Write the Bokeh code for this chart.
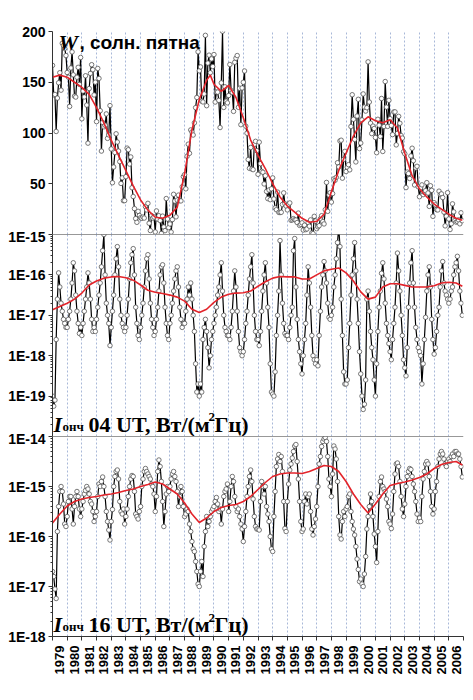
import math
from bokeh.plotting import figure
from bokeh.layouts import column
from bokeh.models import Range1d, FixedTicker, CustomJSTickFormatter, Label, Span
from bokeh.embed import file_html
from bokeh.resources import INLINE

FIRST_YEAR = 1979
LAST_YEAR = 2007
YEAR_LABELS = list(range(1979, 2007))

# Monthly sunspot number W, Jan..Dec, 1979..2006
W_ROWS = [
    [166.6, 137.5, 138.0, 101.5, 134.4, 149.5, 159.4, 142.2, 188.4, 186.2, 183.3, 176.3],
    [159.6, 155.0, 126.2, 164.1, 179.9, 157.3, 136.3, 135.4, 155.0, 164.7, 147.9, 174.4],
    [114.0, 141.3, 135.5, 156.4, 127.5, 90.0, 143.8, 158.7, 167.3, 162.4, 137.5, 150.1],
    [111.2, 163.6, 153.8, 122.0, 82.2, 110.4, 106.1, 107.6, 118.8, 94.7, 98.1, 127.0],
    [84.3, 51.0, 66.5, 80.7, 99.2, 91.1, 82.2, 71.8, 50.3, 55.8, 33.3, 33.4],
    [57.0, 85.1, 83.5, 69.4, 76.4, 46.1, 37.4, 25.5, 15.7, 12.0, 22.8, 18.7],
    [16.5, 15.9, 17.2, 16.2, 27.5, 24.2, 30.7, 11.1, 3.9, 18.6, 16.2, 17.3],
    [2.5, 23.2, 15.1, 18.5, 13.7, 1.1, 18.1, 7.4, 3.8, 35.4, 15.2, 6.8],
    [10.4, 2.4, 14.7, 39.6, 33.0, 17.4, 33.9, 38.8, 33.3, 33.1, 47.0, 57.0],
    [59.0, 45.0, 77.0, 89.0, 80.0, 103.0, 101.0, 98.0, 110.0, 125.0, 135.0, 180.0],
    [161.3, 165.1, 131.4, 130.6, 138.5, 196.2, 126.9, 168.9, 176.7, 159.4, 173.0, 165.5],
    [177.3, 130.5, 140.3, 140.3, 132.2, 105.4, 149.4, 200.3, 125.2, 145.5, 131.4, 129.7],
    [136.9, 167.5, 141.9, 140.0, 121.3, 169.7, 173.7, 176.3, 125.3, 144.1, 108.2, 144.4],
    [150.0, 161.1, 106.7, 99.8, 73.8, 65.2, 85.7, 64.5, 63.9, 88.7, 91.8, 82.6],
    [59.3, 91.0, 69.8, 62.2, 61.3, 49.8, 57.9, 42.4, 35.4, 43.9, 34.3, 45.0],
    [55.8, 35.0, 26.2, 24.4, 41.8, 21.8, 21.6, 21.9, 29.6, 41.0, 30.3, 28.0],
    [24.2, 29.9, 31.1, 14.0, 14.5, 15.6, 14.5, 14.3, 11.8, 21.1, 9.0, 10.0],
    [11.5, 4.4, 9.2, 4.8, 5.5, 11.8, 8.2, 14.4, 1.6, 0.9, 17.9, 13.3],
    [5.7, 7.6, 8.7, 15.5, 18.5, 12.7, 10.4, 24.4, 51.3, 22.8, 39.0, 41.2],
    [31.9, 40.3, 54.8, 53.4, 56.3, 70.7, 66.6, 92.2, 92.9, 55.5, 74.0, 81.9],
    [62.0, 66.3, 68.8, 63.7, 106.4, 137.7, 113.5, 93.7, 71.5, 116.7, 133.2, 84.6],
    [90.1, 112.9, 138.5, 125.5, 121.6, 124.9, 170.1, 130.5, 109.7, 99.4, 106.8, 104.4],
    [95.6, 80.6, 113.5, 107.7, 96.6, 134.0, 81.8, 106.4, 150.7, 125.5, 106.5, 132.2],
    [114.1, 107.4, 98.4, 120.7, 120.8, 88.3, 99.6, 116.4, 109.6, 97.5, 95.0, 81.6],
    [79.5, 46.2, 61.5, 60.0, 55.2, 77.4, 85.0, 72.7, 48.8, 65.6, 67.2, 47.0],
    [37.2, 46.0, 48.9, 39.3, 41.5, 43.2, 51.1, 40.9, 27.7, 48.0, 43.5, 17.9],
    [31.3, 29.2, 24.5, 24.2, 42.7, 39.3, 40.0, 36.4, 22.1, 8.5, 18.0, 41.2],
    [15.3, 4.9, 10.6, 30.2, 22.3, 13.9, 12.2, 12.9, 14.4, 10.5, 21.4, 13.6],
]

# Monthly VLF intensity at 04 UT, log10 of W/(m^2 Hz)
I04_LOG_ROWS = [
    [-19.0, -19.25, -19.1, -17.6, -16.6, -15.95, -16.3, -16.7, -16.9, -17.1, -17.2, -17.3],
    [-17.3, -17.1, -16.9, -16.6, -16.2, -15.7, -15.9, -16.5, -16.9, -17.2, -17.45, -17.3],
    [-17.5, -17.2, -16.9, -16.6, -16.3, -15.95, -16.2, -16.6, -17.1, -17.4, -17.3, -17.4],
    [-17.1, -16.8, -16.5, -16.2, -15.8, -15.4, -15.0, -16.0, -16.7, -17.0, -17.2, -17.75],
    [-17.3, -16.9, -16.5, -16.0, -15.6, -15.3, -15.8, -16.6, -17.0, -17.2, -17.3, -17.4],
    [-17.3, -17.0, -16.6, -16.1, -15.7, -15.5, -15.35, -16.0, -16.8, -17.2, -17.5, -17.6],
    [-17.3, -17.0, -16.7, -16.3, -15.9, -15.6, -15.5, -16.1, -16.7, -17.1, -17.3, -17.5],
    [-17.4, -17.1, -16.8, -16.4, -16.0, -15.8, -15.75, -16.2, -16.8, -17.2, -17.5, -17.6],
    [-17.2, -17.0, -16.7, -16.4, -16.1, -15.9, -15.8, -16.3, -16.8, -17.1, -17.3, -17.2],
    [-17.2, -16.9, -16.6, -16.3, -16.5, -16.2, -16.6, -17.0, -17.4, -18.2, -18.9, -18.7],
    [-19.0, -18.7, -18.9, -17.6, -17.3, -17.1, -17.4, -17.8, -18.3, -18.0, -17.6, -17.4],
    [-17.2, -17.0, -16.8, -16.5, -16.3, -16.0, -15.7, -16.4, -17.0, -17.3, -17.4, -17.5],
    [-17.5, -17.6, -17.3, -16.9, -16.4, -15.9, -16.3, -16.9, -17.4, -17.8, -17.9, -18.0],
    [-17.9, -17.6, -17.2, -16.9, -16.5, -16.1, -15.8, -15.5, -16.2, -17.0, -17.4, -17.6],
    [-17.6, -17.75, -17.4, -16.9, -16.4, -16.0, -15.7, -16.2, -16.8, -17.3, -18.2, -18.9],
    [-18.95, -19.0, -18.4, -17.5, -17.0, -16.4, -15.15, -16.0, -16.7, -17.2, -17.45, -17.5],
    [-17.5, -17.6, -17.3, -17.0, -16.8, -15.4, -15.1, -16.3, -17.1, -17.6, -17.9, -18.2],
    [-18.45, -18.0, -17.6, -17.2, -16.5, -15.8, -16.2, -16.8, -17.5, -18.0, -18.1, -18.2],
    [-18.1, -18.25, -17.5, -16.9, -16.3, -16.0, -15.67, -15.9, -16.2, -16.7, -17.05, -17.1],
    [-17.0, -16.8, -16.3, -16.0, -15.6, -15.2, -14.8, -15.3, -16.6, -17.5, -18.4, -18.7],
    [-18.7, -18.6, -17.8, -17.2, -16.5, -16.0, -15.6, -15.2, -15.9, -16.6, -17.2, -17.9],
    [-18.45, -19.0, -19.33, -19.2, -18.6, -16.6, -16.4, -16.9, -17.4, -17.8, -18.1, -18.6],
    [-19.0, -18.2, -17.4, -16.8, -16.4, -15.96, -15.7, -16.1, -16.7, -17.2, -17.5, -17.7],
    [-17.9, -18.1, -17.6, -17.2, -16.8, -16.2, -15.46, -15.9, -16.4, -17.0, -17.5, -18.1],
    [-18.3, -18.5, -17.8, -16.8, -16.2, -15.7, -15.4, -16.2, -16.8, -17.3, -17.6, -17.8],
    [-17.9, -18.0, -18.7, -18.2, -17.6, -17.05, -16.4, -16.0, -15.8, -16.3, -17.1, -17.6],
    [-17.96, -17.8, -17.4, -17.0, -16.8, -16.3, -15.9, -15.67, -16.2, -16.4, -16.5, -16.6],
    [-16.7, -16.6, -16.4, -16.3, -16.0, -15.8, -15.7, -15.54, -15.9, -16.4, -16.7, -17.0],
]

# Monthly VLF intensity at 16 UT, log10 of W/(m^2 Hz)
I16_LOG_ROWS = [
    [-16.7, -16.8, -17.05, -17.24, -15.9, -15.4, -15.1, -15.0, -15.1, -15.35, -15.75, -15.8],
    [-15.6, -15.3, -15.2, -15.2, -15.45, -15.75, -15.4, -15.2, -15.1, -15.2, -15.45, -15.6],
    [-15.45, -15.3, -15.15, -15.08, -15.0, -15.05, -15.15, -15.3, -15.35, -15.5, -15.7, -15.6],
    [-15.5, -15.2, -14.95, -15.0, -14.9, -14.81, -15.0, -15.2, -15.5, -15.7, -15.87, -16.07],
    [-15.7, -15.46, -15.0, -14.8, -14.7, -14.67, -14.85, -15.3, -15.5, -15.55, -15.45, -15.75],
    [-15.6, -15.45, -15.2, -15.0, -14.85, -14.78, -14.8, -15.1, -15.55, -15.6, -15.65, -15.5],
    [-15.4, -15.0, -14.85, -14.7, -14.64, -14.7, -14.75, -14.8, -14.85, -14.95, -15.0, -15.15],
    [-15.5, -15.2, -14.7, -14.47, -14.6, -14.9, -15.3, -15.8, -15.5, -15.15, -15.0, -15.1],
    [-15.0, -14.85, -14.75, -14.7, -14.8, -14.9, -15.1, -15.4, -15.2, -15.0, -15.1, -15.4],
    [-15.6, -15.55, -15.45, -15.5, -15.75, -15.9, -16.1, -16.25, -16.3, -16.5, -16.7, -16.95],
    [-17.0, -16.7, -16.5, -16.8, -16.2, -15.9, -15.6, -15.8, -15.7, -15.6, -15.5, -15.45],
    [-15.4, -15.3, -15.22, -15.35, -15.5, -15.45, -15.75, -15.45, -15.2, -15.1, -15.05, -14.95],
    [-15.5, -15.3, -15.0, -14.8, -14.9, -15.2, -15.4, -15.5, -15.45, -15.6, -15.75, -15.85],
    [-16.1, -15.8, -15.5, -15.2, -15.0, -14.8, -14.67, -14.9, -15.25, -15.6, -15.8, -15.85],
    [-15.85, -15.87, -15.3, -14.9, -15.0, -15.15, -15.0, -15.4, -15.55, -15.7, -16.0, -16.25],
    [-16.3, -15.6, -15.1, -14.6, -14.45, -14.36, -14.5, -14.4, -14.7, -15.3, -15.84, -15.9],
    [-15.3, -14.95, -14.67, -14.55, -14.43, -14.3, -14.19, -14.16, -14.5, -14.85, -15.3, -15.7],
    [-15.9, -15.85, -15.3, -15.15, -15.35, -15.2, -15.15, -15.5, -15.85, -15.97, -15.8, -15.65],
    [-15.4, -15.0, -14.55, -14.4, -14.2, -14.1, -14.05, -14.02, -14.1, -14.4, -14.85, -15.0],
    [-15.2, -14.75, -14.19, -14.25, -14.45, -14.9, -15.6, -15.97, -16.05, -15.7, -15.5, -15.6],
    [-15.45, -15.4, -15.2, -15.15, -15.5, -15.7, -15.85, -15.97, -16.2, -16.45, -16.66, -16.9],
    [-16.85, -16.95, -17.0, -16.75, -16.4, -15.85, -15.6, -15.4, -15.15, -15.3, -15.6, -15.95],
    [-16.2, -16.52, -15.9, -15.2, -14.9, -14.81, -15.0, -15.05, -15.1, -15.25, -15.4, -15.7],
    [-15.75, -15.84, -15.55, -15.1, -14.75, -14.55, -14.53, -14.6, -14.9, -15.2, -15.45, -15.6],
    [-15.35, -15.0, -14.8, -14.7, -14.64, -14.66, -14.8, -14.95, -15.1, -15.3, -15.55, -15.7],
    [-15.63, -15.7, -15.2, -14.85, -14.7, -14.55, -14.5, -14.55, -14.8, -15.1, -15.4, -15.55],
    [-15.45, -15.1, -14.9, -14.6, -14.45, -14.35, -14.3, -14.35, -14.45, -14.55, -14.6, -14.5],
    [-14.45, -14.5, -14.4, -14.35, -14.4, -14.3, -14.3, -14.35, -14.35, -14.45, -14.6, -14.81],
]

# Smoothed (red) curves
W_SMOOTH_X = [1979.0, 1979.5, 1980.0, 1980.5, 1981.0, 1981.5, 1982.0, 1982.5, 1983.0, 1983.5,
              1984.0, 1984.5, 1985.0, 1985.5, 1986.0, 1986.5, 1987.0, 1987.5, 1988.0, 1988.5,
              1989.0, 1989.5, 1989.75, 1990.0, 1990.5, 1991.0, 1991.5, 1992.0, 1992.5, 1993.0,
              1993.5, 1994.0, 1994.5, 1995.0, 1995.5, 1996.0, 1996.5, 1997.0, 1997.5, 1998.0,
              1998.5, 1999.0, 1999.5, 2000.0, 2000.5, 2001.0, 2001.5, 2002.0, 2002.5, 2003.0,
              2003.5, 2004.0, 2004.5, 2005.0, 2005.5, 2006.0, 2006.5, 2006.92]
W_SMOOTH = [155, 157, 155, 150, 145, 138, 125, 110, 93, 78,
            63, 48, 34, 24, 17, 16, 19, 27, 60, 103,
            133, 152, 157, 148, 141, 147, 135, 115, 93, 78,
            65, 50, 37, 28, 22, 16, 12, 13, 20, 42,
            63, 80, 97, 110, 116, 112, 110, 113, 105, 80,
            58, 45, 37, 30, 25, 20, 16, 14]

I_SMOOTH_X = [1979.0, 1979.5, 1980.0, 1980.5, 1981.0, 1981.5, 1982.0, 1982.5, 1983.0, 1983.5,
              1984.0, 1984.5, 1985.0, 1985.5, 1986.0, 1986.5, 1987.0, 1987.5, 1988.0, 1988.5,
              1989.0, 1989.5, 1990.0, 1990.5, 1991.0, 1991.5, 1992.0, 1992.5, 1993.0, 1993.5,
              1994.0, 1994.5, 1995.0, 1995.5, 1996.0, 1996.5, 1997.0, 1997.5, 1998.0, 1998.5,
              1999.0, 1999.5, 2000.0, 2000.5, 2001.0, 2001.5, 2002.0, 2002.5, 2003.0, 2003.5,
              2004.0, 2004.5, 2005.0, 2005.5, 2006.0, 2006.5, 2006.92]
I04_SMOOTH_LOG = [-16.86, -16.78, -16.7, -16.6, -16.45, -16.25, -16.15, -16.08, -16.05, -16.04,
                  -16.07, -16.13, -16.25, -16.38, -16.43, -16.46, -16.5, -16.55, -16.65, -16.85,
                  -16.93, -16.85, -16.68, -16.55, -16.48, -16.45, -16.44, -16.4, -16.28, -16.17,
                  -16.08, -16.04, -16.05, -16.05, -16.1, -16.1, -16.0, -15.9, -15.86, -15.83,
                  -15.95, -16.15, -16.42, -16.6, -16.55, -16.3, -16.22, -16.22, -16.26, -16.3,
                  -16.3, -16.3, -16.27, -16.2, -16.18, -16.2, -16.28]
I16_SMOOTH_LOG = [-15.73, -15.55, -15.39, -15.3, -15.25, -15.22, -15.2, -15.17, -15.15, -15.12,
                  -15.08, -15.05, -15.0, -14.96, -14.91, -14.95, -15.05, -15.15, -15.33, -15.55,
                  -15.72, -15.63, -15.5, -15.42, -15.38, -15.36, -15.3, -15.2, -15.06, -14.92,
                  -14.8, -14.75, -14.73, -14.73, -14.74, -14.7, -14.64, -14.58, -14.6, -14.7,
                  -14.9, -15.15, -15.36, -15.53, -15.35, -15.15, -14.98, -14.94, -14.91, -14.87,
                  -14.82, -14.75, -14.64, -14.56, -14.52, -14.5, -14.57]

# ---------------------------------------------------------------------------
w_vals = [v for row in W_ROWS for v in row]
i04_vals = [10 ** v for row in I04_LOG_ROWS for v in row]
i16_vals = [10 ** v for row in I16_LOG_ROWS for v in row]
months_x = [FIRST_YEAR + k / 12 for k in range(len(w_vals))]
i04_smooth = [10 ** v for v in I04_SMOOTH_LOG]
i16_smooth = [10 ** v for v in I16_SMOOTH_LOG]

FIG_W = 471
BORDER_L = 52
BORDER_R = 8
FRAME_W = FIG_W - BORDER_L - BORDER_R
OVERLAP = 6


def year_at(px_from_frame_left):
    return FIRST_YEAR + px_from_frame_left * (LAST_YEAR - FIRST_YEAR) / FRAME_W


x_range = Range1d(FIRST_YEAR, LAST_YEAR)
common = dict(width=FIG_W, x_range=x_range, toolbar_location=None, output_backend="svg",
              min_border_left=BORDER_L, min_border_right=BORDER_R)

p1 = figure(height=31 + 203, y_range=Range1d(0, 200), min_border_top=31, min_border_bottom=0, **common)
p2 = figure(height=202 + OVERLAP, y_range=Range1d(1e-20, 1e-15), y_axis_type="log",
            min_border_top=OVERLAP, min_border_bottom=0, margin=(-OVERLAP, 0, 0, 0), **common)
p3 = figure(height=200 + OVERLAP + 42, y_range=Range1d(1e-18, 1e-14), y_axis_type="log",
            min_border_top=OVERLAP, min_border_bottom=42, margin=(-OVERLAP, 0, 0, 0), **common)

AX_COLOR = "#333333"
GRID_COLOR = "#a8b8d8"

for p in (p1, p2, p3):
    p.outline_line_color = None
    p.ygrid.visible = False
    p.xgrid.ticker = FixedTicker(ticks=list(range(1980, 2007)))
    p.xgrid.grid_line_color = GRID_COLOR
    p.xgrid.grid_line_dash = "2 2"
    p.xgrid.grid_line_width = 1
    ax = p.yaxis[0]
    ax.axis_line_color = AX_COLOR
    ax.major_tick_line_color = AX_COLOR
    ax.minor_tick_line_color = AX_COLOR
    ax.major_tick_out = 4
    ax.major_tick_in = 0
    ax.minor_tick_out = 2
    ax.minor_tick_in = 0
    ax.major_label_standoff = 3
    ax.major_label_text_font = "Liberation Sans"
    ax.major_label_text_font_style = "bold"
    ax.major_label_text_font_size = "14px"
    ax.major_label_text_color = "black"

p1.border_fill_color = "white"
p2.border_fill_alpha = 0
p3.border_fill_alpha = 0

p1.xaxis.visible = False
p2.xaxis.visible = False

p1.yaxis.ticker = FixedTicker(ticks=[50, 100, 150, 200])
p1.yaxis.minor_tick_line_color = None

log_fmt = CustomJSTickFormatter(code="return '1E' + Math.round(Math.log10(tick));")
p2.yaxis.ticker = FixedTicker(ticks=[1e-19, 1e-18, 1e-17, 1e-16, 1e-15],
                              minor_ticks=[k * 10.0 ** e for e in range(-20, -15) for k in range(2, 10)])
p2.yaxis.formatter = log_fmt
p3.yaxis.ticker = FixedTicker(ticks=[1e-18, 1e-17, 1e-16, 1e-15, 1e-14],
                              minor_ticks=[k * 10.0 ** e for e in range(-18, -14) for k in range(2, 10)])
p3.yaxis.formatter = log_fmt

xa = p3.xaxis[0]
xa.ticker = FixedTicker(ticks=[y + 0.5 for y in YEAR_LABELS],
                        minor_ticks=list(range(FIRST_YEAR, LAST_YEAR + 1)))
xa.formatter = CustomJSTickFormatter(code="return Math.floor(tick).toString();")
xa.major_label_orientation = math.pi / 2
xa.major_tick_out = 0
xa.major_tick_in = 0
xa.minor_tick_out = 4
xa.minor_tick_in = 0
xa.axis_line_color = AX_COLOR
xa.minor_tick_line_color = AX_COLOR
xa.major_label_standoff = 5
xa.major_label_text_font = "Liberation Sans"
xa.major_label_text_font_style = "bold"
xa.major_label_text_font_size = "13px"
xa.major_label_text_color = "black"

p2.add_layout(Span(location=1e-15, dimension="width", line_color=AX_COLOR, line_width=1))
p3.add_layout(Span(location=1e-14, dimension="width", line_color=AX_COLOR, line_width=1))


def draw(p, ys, sx, sy):
    p.line(months_x, ys, line_color="black", line_width=1.2)
    p.scatter(months_x, ys, marker="circle", size=4.5, fill_color="white",
              line_color="#555555", line_width=0.8)
    p.line(sx, sy, line_color="#e3242b", line_width=1.6)


draw(p1, w_vals, W_SMOOTH_X, W_SMOOTH)
draw(p2, i04_vals, I_SMOOTH_X, i04_smooth)
draw(p3, i16_vals, I_SMOOTH_X, i16_smooth)


def txt(p, px, y, text, font, size, style="bold"):
    p.add_layout(Label(x=year_at(px), y=y, text=text, text_font=font, text_font_size=size,
                       text_font_style=style, text_color="black", text_baseline="alphabetic",
                       text_align="left"))


SERIF = "Liberation Serif"
SANS = "Liberation Sans"

# top panel title
txt(p1, 6, 189, "W", SERIF, "22px", "bold italic")
txt(p1, 27, 189, ", солн. пятна", SANS, "19px", "bold")


def unit_title(p, base_log, hour, dec_px):
    sub_log = base_log - 2.0 / dec_px
    sup_log = base_log + 7.0 / dec_px
    txt(p, 1, 10 ** base_log, "I", SERIF, "22px", "bold italic")
    txt(p, 10, 10 ** sub_log, "онч", SERIF, "13px", "bold")
    txt(p, 36, 10 ** base_log, hour + " UT, Вт/(м", SERIF, "22px", "bold")
    txt(p, 156, 10 ** sup_log, "2", SERIF, "13px", "bold")
    txt(p, 162, 10 ** base_log, "Гц)", SERIF, "22px", "bold")


unit_title(p2, -19.70, "04", 40.4)
unit_title(p3, -17.76, "16", 50.0)

layout = column(p1, p2, p3, spacing=0)
open("out.html", "w").write(file_html(layout, INLINE))
